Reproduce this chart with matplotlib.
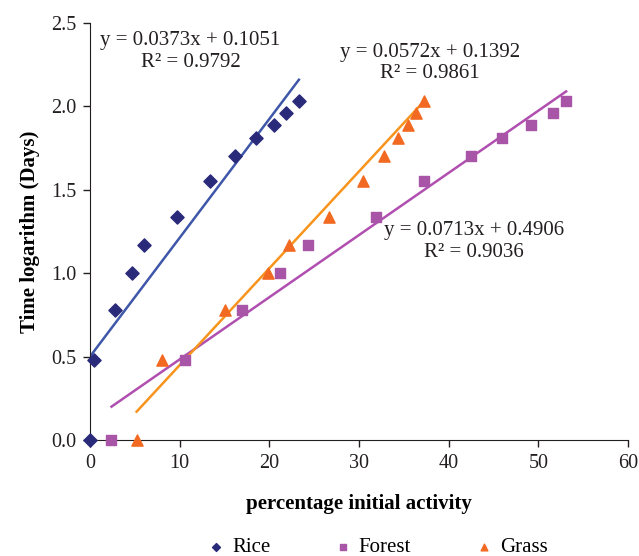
import numpy as np
import matplotlib
matplotlib.use("Agg")
import matplotlib.pyplot as plt

plt.rcParams["font.family"] = ["Liberation Serif", "DejaVu Serif"]

# time logarithm values (shared by all three soils)
log_days = [0, 0.48, 0.78, 1.0, 1.17, 1.34, 1.55, 1.70, 1.81, 1.89, 1.96, 2.03]

rice_x = [0, 0.5, 2.8, 4.7, 6.0, 9.7, 13.4, 16.2, 18.5, 20.5, 21.9, 23.3]
forest_x = [2.4, 10.6, 16.9, 21.2, 24.3, 31.9, 37.2, 42.5, 45.9, 49.2, 51.6, 53.1]
grass_x = [5.2, 8.0, 15.1, 19.8, 22.2, 26.7, 30.5, 32.8, 34.3, 35.5, 36.4, 37.2]

# trendline endpoints as drawn
rice_fit_x, rice_fit_y = [0, 23.3], [0.50, 2.16]
forest_fit_x, forest_fit_y = [2.4, 53.1], [0.20, 2.09]
grass_fit_x, grass_fit_y = [5.2, 37.4], [0.17, 2.04]

rice_eq = "y = 0.0373x + 0.1051\nR² = 0.9792"
grass_eq = "y = 0.0572x + 0.1392\nR² = 0.9861"
forest_eq = "y = 0.0713x + 0.4906\nR² = 0.9036"

fig = plt.figure(figsize=(6.39, 5.56), dpi=100)
ax = fig.add_axes([0.1408, 0.2086, 0.842, 0.75])

ax.plot(rice_fit_x, rice_fit_y, color="#3F57A8", lw=1.8, zorder=2)
ax.plot(forest_fit_x, forest_fit_y, color="#B04FB0", lw=1.8, zorder=2)
ax.plot(grass_fit_x, grass_fit_y, color="#F7941D", lw=1.8, zorder=2)

ax.scatter(rice_x, log_days, marker="D", s=45, color="#2A2A7A", label="Rice", zorder=3, clip_on=False)
ax.scatter(forest_x, log_days, marker="s", s=60, color="#A855A8", label="Forest", zorder=3, clip_on=False)
ax.scatter(grass_x, log_days, marker="^", s=65, color="#F26A21", label="Grass", zorder=3, clip_on=False)

ax.text(11.2, 2.33, rice_eq, ha="center", va="center", fontsize=15, color="#231F20", linespacing=1.2)
ax.text(37.9, 2.26, grass_eq, ha="center", va="center", fontsize=15, color="#231F20", linespacing=1.2)
ax.text(42.8, 1.19, forest_eq, ha="center", va="center", fontsize=15, color="#231F20", linespacing=1.2)

ax.set_xlim(0, 60)
ax.set_ylim(0, 2.5)
ax.set_xticks(range(0, 61, 10))
ax.set_yticks(np.arange(0, 2.51, 0.5))
ax.yaxis.set_major_formatter(matplotlib.ticker.FormatStrFormatter("%.1f"))
ax.tick_params(labelsize=14.5, length=5, width=1, colors="#231F20", pad=5)
for s in ["top", "right"]:
    ax.spines[s].set_visible(False)
for s in ["left", "bottom"]:
    ax.spines[s].set_color("#231F20")

ax.set_xlabel("percentage initial activity", fontsize=15, fontweight="bold", labelpad=15)
ax.set_ylabel("Time logarithm (Days)", fontsize=15, fontweight="bold", labelpad=8)

ax.legend(loc="center", bbox_to_anchor=(0.533, -0.258), ncol=3, frameon=False,
          fontsize=15, handlelength=1.0, handletextpad=0.25, columnspacing=3.0,
          markerscale=0.6, borderpad=0.1)

fig.savefig("out.png", dpi=100)
